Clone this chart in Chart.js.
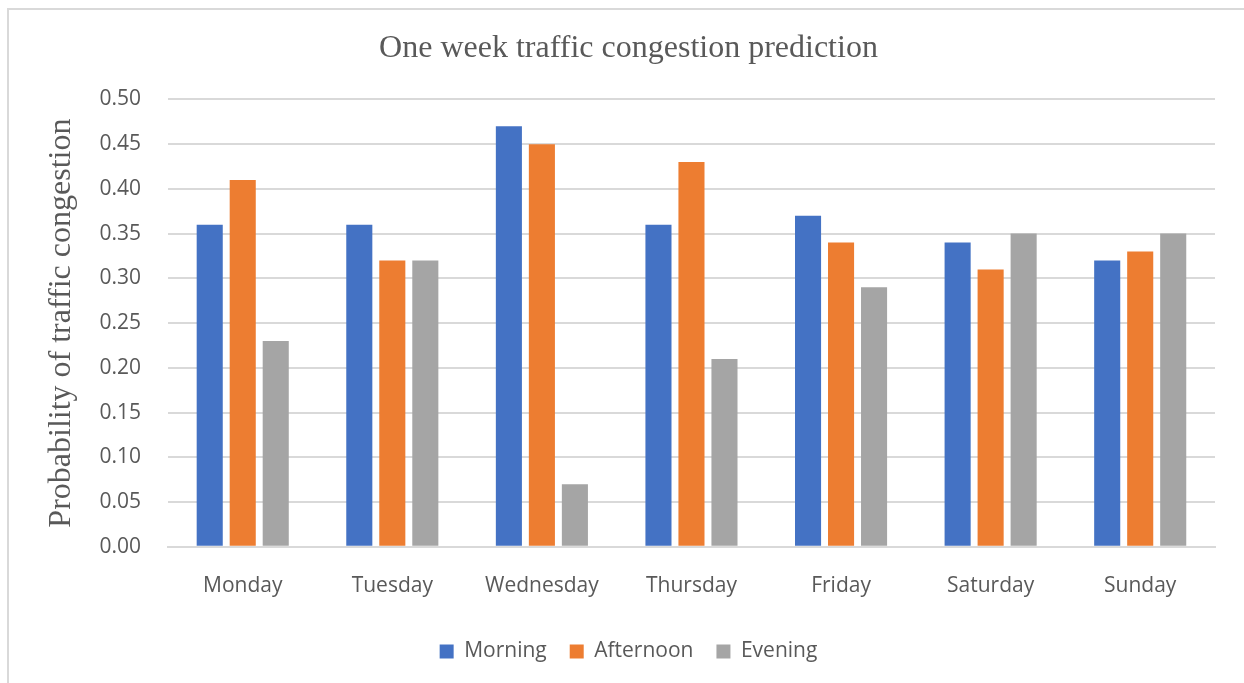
<!DOCTYPE html>
<html>
<head>
<meta charset="utf-8">
<script src="https://cdn.jsdelivr.net/npm/chart.js@4"></script>
<style>
  html, body { margin: 0; padding: 0; background: #fff; overflow: hidden; }
  #frame {
    position: absolute; left: 7px; top: 8px; width: 1300px; height: 720px;
    border-left: 2px solid #d9d9d9; border-top: 2px solid #d9d9d9;
  }
  #wrap { position: absolute; left: 0; top: 0; width: 1244px; height: 683px; }
</style>
</head>
<body>
<div id="frame"></div>
<div id="wrap"><canvas id="chart" width="1244" height="683"></canvas></div>
<script>
  // ─── data ───
  const days      = ['Monday', 'Tuesday', 'Wednesday', 'Thursday', 'Friday', 'Saturday', 'Sunday'];
  const morning   = [0.36, 0.36, 0.47, 0.36, 0.37, 0.34, 0.32];
  const afternoon = [0.41, 0.32, 0.45, 0.43, 0.34, 0.31, 0.33];
  const evening   = [0.23, 0.32, 0.07, 0.21, 0.29, 0.35, 0.35];
  const yTicks    = [0, 0.05, 0.10, 0.15, 0.20, 0.25, 0.30, 0.35, 0.40, 0.45, 0.50];

  const textCol = '#595959';
  const gridCol = '#d9d9d9';
  const sans  = "'Open Sans', sans-serif";
  const serif = "'Liberation Serif', 'DejaVu Serif', serif";

  function series(label, data, color) {
    return {
      label, data,
      backgroundColor: color,
      borderWidth: 0,
      categoryPercentage: 0.662,
      barPercentage: 0.79
    };
  }

  new Chart(document.getElementById('chart'), {
    type: 'bar',
    data: {
      labels: days,
      datasets: [
        series('Morning',   morning,   '#4472C4'),
        series('Afternoon', afternoon, '#ED7D31'),
        series('Evening',   evening,   '#A5A5A5')
      ]
    },
    options: {
      responsive: false,
      animation: false,
      layout: { padding: { left: 42, right: 29, top: 20, bottom: 11 } },
      plugins: {
        title: {
          display: true,
          text: 'One week traffic congestion prediction',
          color: textCol,
          font: { family: serif, size: 32, weight: 'normal' },
          padding: { top: 9, bottom: 32 }
        },
        legend: {
          position: 'bottom',
          labels: {
            color: textCol,
            font: { family: sans, size: 21 },
            boxWidth: 14,
            boxHeight: 14,
            padding: 23
          }
        },
        tooltip: { enabled: false }
      },
      scales: {
        x: {
          grid: { display: false },
          border: { display: true, color: gridCol, width: 2 },
          ticks: { color: textCol, font: { family: sans, size: 21 }, padding: 19 }
        },
        y: {
          min: 0,
          max: 0.5,
          afterBuildTicks: axis => { axis.ticks = yTicks.map(v => ({ value: v })); },
          grid: { color: gridCol, lineWidth: 2, drawTicks: false },
          border: { display: false },
          ticks: {
            color: textCol,
            font: { family: sans, size: 21 },
            padding: 27,
            callback: v => v.toFixed(2)
          },
          title: {
            display: true,
            text: 'Probability of traffic congestion',
            color: textCol,
            font: { family: serif, size: 32, weight: 'normal' },
            padding: { top: 0, bottom: -8 }
          }
        }
      }
    }
  });
</script>
</body>
</html>
